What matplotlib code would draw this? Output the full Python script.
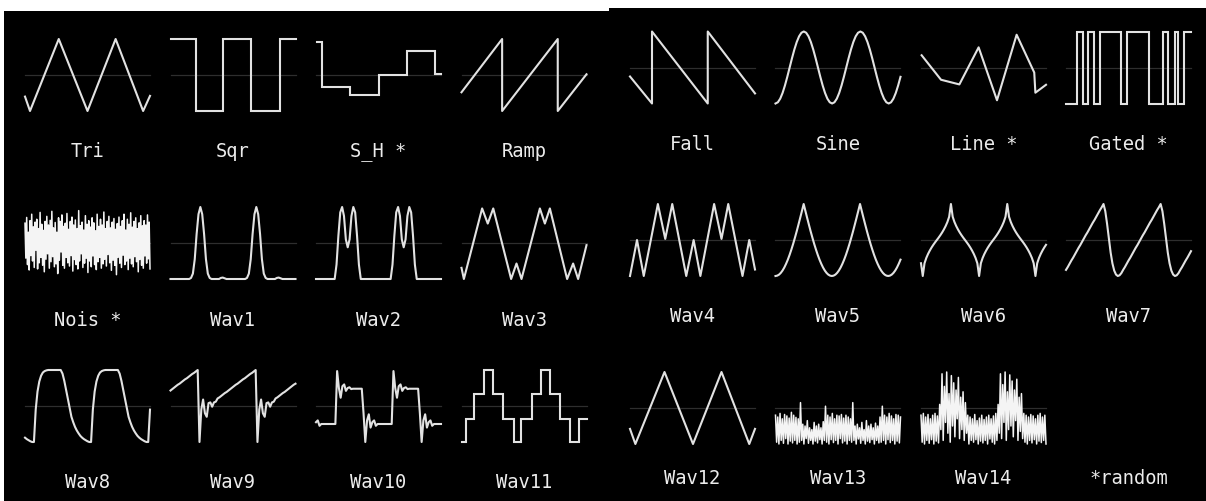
import matplotlib
matplotlib.use('Agg')
import matplotlib.pyplot as plt
from matplotlib.patches import Rectangle
import numpy as np

# ---------------- waveform data (x: 0..1 across the box, y: -1..1) ----------------
tri_x = [0, 0.04, 0.27, 0.5, 0.725, 0.945, 1.0]
tri_y = [-0.6, -1, 1, -1, 1, -1, -0.58]

sqr_x = [0, 0.2, 0.42, 0.645, 0.875, 1.0]
sqr_lv = [1, -1, 1, -1, 1]

sh_x = [0.01, 0.046, 0.274, 0.506, 0.728, 0.952, 1.0]
sh_lv = [0.91, -0.34, -0.55, 0.0, 0.66, 0.03]

ramp_x = [0, 0.325, 0.325, 0.77, 0.77, 1.0]
ramp_y = [-0.48, 1, -1, 1, -1, 0.02]

fall_x = [0, 0.176, 0.176, 0.622, 0.622, 1.0]
fall_y = [-0.25, -1, 1, -1, 1, -0.72]

sine_period = [-1, -0.966, -0.866, -0.707, -0.5, -0.259, 0, 0.259, 0.5, 0.707, 0.866, 0.966,
               1, 0.966, 0.866, 0.707, 0.5, 0.259, 0, -0.259, -0.5, -0.707, -0.866, -0.966]

line_x = [0.005, 0.16, 0.307, 0.461, 0.608, 0.765, 0.906, 0.915, 1.0]
line_y = [0.34, -0.34, -0.47, 0.56, -0.91, 0.91, -0.14, -0.70, -0.48]

gated_x = [0, 0.088, 0.137, 0.177, 0.223, 0.268, 0.437, 0.491, 0.665, 0.777, 0.812, 0.871, 0.893, 0.941, 1.0]
gated_lv = [-1, 1, -1, 1, -1, 1, -1, 1, -1, 1, -1, 1, -1, 1]

nois_vals = [0.55, -0.42, 0.71, -0.6, 0.3, -0.75, 0.62, -0.35, 0.8, -0.5, 0.45, -0.68, 0.58, -0.2, 0.66, -0.72,
             0.4, -0.55, 0.85, -0.4, 0.52, -0.62, 0.35, -0.8, 0.6, -0.45, 0.74, -0.3, 0.5, -0.7, 0.63, -0.52,
             0.88, -0.38, 0.42, -0.66, 0.57, -0.58, 0.3, -0.85, 0.7, -0.48, 0.6, -0.25, 0.78, -0.62, 0.46, -0.7,
             0.55, -0.4, 0.82, -0.55, 0.38, -0.64, 0.6, -0.35, 0.72, -0.78, 0.5, -0.46, 0.64, -0.6, 0.4, -0.72,
             0.9, -0.5, 0.48, -0.3, 0.58, -0.68, 0.36, -0.56, 0.76, -0.42, 0.52, -0.82, 0.62, -0.5, 0.44, -0.66,
             0.7, -0.36, 0.56, -0.6, 0.34, -0.74, 0.8, -0.52, 0.46, -0.4, 0.66, -0.7, 0.5, -0.58, 0.86, -0.45,
             0.4, -0.64, 0.6, -0.32, 0.74, -0.55, 0.42, -0.76, 0.58, -0.48, 0.68, -0.62, 0.38, -0.88, 0.54, -0.4,
             0.72, -0.56, 0.46, -0.68, 0.62, -0.34, 0.8, -0.6, 0.36, -0.5, 0.66, -0.74, 0.52, -0.42, 0.84, -0.58,
             0.44, -0.66, 0.6, -0.38, 0.7, -0.52, 0.4, -0.8, 0.56, -0.46, 0.76, -0.62, 0.48, -0.7, 0.62, -0.36,
             0.5, -0.56, 0.78, -0.44, 0.58, -0.72]

wav1_period = [1.0, 0.8, 0.25, -0.45, -0.85, -0.97, -1, -1, -1, -1, -1, -0.97, -0.96, -0.98, -1,
               -1, -1, -1, -1, -1, -1, -1, -1, -1, -1, -0.97, -0.85, -0.45, 0.25, 0.8]

wav2_period = [-1, -0.6, 0.2, 0.85, 1.0, 0.75, 0.1, -0.12, 0.1, 0.75, 1.0, 0.85, 0.2, -0.6, -1,
               -1, -1, -1, -1, -1, -1, -1, -1, -1, -1, -1, -1, -1, -1, -1]

wav3_x = [0, 0.019, 0.165, 0.21, 0.254, 0.397, 0.44, 0.48, 0.627, 0.667, 0.707, 0.845, 0.893, 0.933, 1.0]
wav3_y = [-0.69, -1, 0.96, 0.54, 0.96, -1, -0.57, -1, 0.96, 0.54, 0.96, -1, -0.57, -1, -0.06]

wav4_x = [0, 0.056, 0.11, 0.223, 0.282, 0.338, 0.45, 0.509, 0.563, 0.673, 0.732, 0.786, 0.9, 0.954, 1.0]
wav4_y = [-1, 0, -1, 1, 0.03, 1, -1, 0, -1, 1, 0.03, 1, -1, 0, -0.82]

wav5_period = [1, 0.804, 0.61, 0.42, 0.234, 0.058, -0.112, -0.268, -0.414, -0.546, -0.662, -0.764,
               -0.848, -0.914, -0.962, -0.99, -1, -0.99, -0.962, -0.914, -0.848, -0.764, -0.662,
               -0.546, -0.414, -0.268, -0.112, 0.058, 0.234, 0.42, 0.61, 0.804]

wav6_period = [1, 0.646, 0.5, 0.388, 0.293, 0.209, 0.134, 0.065, 0, -0.065, -0.134, -0.209, -0.293,
               -0.388, -0.5, -0.646, -1, -0.646, -0.5, -0.388, -0.293, -0.209, -0.134, -0.065, 0,
               0.065, 0.134, 0.209, 0.293, 0.388, 0.5, 0.646]

wav7_period = [1.0, 0.8, 0.45, 0.05, -0.35, -0.65, -0.85, -0.96, -1.0, -0.98, -0.92, -0.83, -0.75,
               -0.66, -0.57, -0.49, -0.4, -0.31, -0.22, -0.14, -0.05, 0.04, 0.13, 0.21, 0.3, 0.39,
               0.48, 0.56, 0.65, 0.74, 0.83, 0.91]

wav8_period = [-1.0, -0.1, 0.4, 0.68, 0.84, 0.93, 0.97, 0.99, 1, 1, 1, 1, 1, 1, 1, 1, 0.9, 0.7,
               0.45, 0.2, -0.05, -0.3, -0.45, -0.58, -0.68, -0.76, -0.83, -0.88, -0.92, -0.95, -0.98, -1.0]

wav9_period = [1.0, -1.0, -0.1, 0.18, -0.2, -0.3, 0.08, 0.1, -0.02, 0.1, 0.12, 0.21, 0.24, 0.28,
               0.32, 0.36, 0.39, 0.43, 0.47, 0.51, 0.55, 0.59, 0.62, 0.66, 0.70, 0.74, 0.77, 0.81,
               0.85, 0.89, 0.92, 0.96]

wav10_period = [-0.5, 0.97, 0.5, 0.23, 0.55, 0.6, 0.42, 0.5, 0.52, 0.47, 0.48, 0.48, 0.48, 0.48,
                0.48, 0.48, -0.2, -1.0, -0.4, -0.23, -0.6, -0.45, -0.4, -0.55, -0.5, -0.5, -0.5,
                -0.5, -0.5, -0.5, -0.5, -0.5]

wav11_x = [0, 0.035, 0.099, 0.18, 0.255, 0.335, 0.416, 0.475, 0.563, 0.635, 0.71, 0.79, 0.866, 0.938, 1.0]
wav11_lv = [-1, -0.35, 0.33, 1.0, 0.33, -0.35, -1, -0.35, 0.33, 1.0, 0.33, -0.35, -1, -0.35]

wav12_x = [0, 0.043, 0.276, 0.504, 0.732, 0.954, 1.0]
wav12_y = [-0.58, -1, 1, -1, 1, -1, -0.58]

wav13_vals = [-0.2, -0.95, -0.25, -1.0, -0.15, -0.9, -0.3, -0.98, -0.18, -0.85, -0.22, -1.0, -0.28, -0.92,
              -0.12, -0.97, -0.2, -0.9, -0.26, -1.0, -0.3,
              -0.95, 0.15, -0.9, -0.45, -1.0, -0.5, -0.85, -0.35, -0.98, -0.55, -0.9, -0.6, -1.0, -0.4,
              -0.92, -0.5, -0.97, -0.45, -0.88, -0.55, -1.0, -0.38, -0.9,
              0.05, -0.95, -0.2, -1.0, -0.25, -0.88, -0.15, -0.96, -0.3, -0.9, -0.2, -1.0, -0.22, -0.85,
              -0.18, -0.97, -0.28, -0.92, -0.2, -1.0, -0.25, -0.9, -0.3, -0.95,
              0.15, -0.9, -0.5, -1.0, -0.45, -0.86, -0.55, -0.98, -0.4, -0.9, -0.6, -1.0, -0.35, -0.92,
              -0.5, -0.96, -0.45, -0.88, -0.55, -1.0, -0.42, -0.9, -0.5, -0.97, -0.25,
              -0.95, 0.05, -0.9, -0.2, -1.0, -0.25, -0.88, -0.15, -0.96, -0.22, -0.9, -0.3, -1.0, -0.18,
              -0.92, -0.2, -0.97, -0.25]

wav14_vals = [-0.2, -0.95, -0.15, -1.0, -0.25, -0.9, -0.18, -0.98, -0.3, -0.88, -0.2, -1.0, -0.15, -0.92,
              -0.22, -0.97,
              0.1, -0.6, 0.95, -0.9, 0.6, -0.4, 1.0, -0.7, 0.4, -0.95, 0.9, -0.5, 0.7, -0.8, 0.5, -0.3,
              0.85, -0.85, 0.3, -0.6, 0.45, -0.9, 0.15, -0.7,
              -0.2, -1.0, -0.25, -0.9, -0.3, -0.95, -0.18, -0.88, -0.35, -1.0, -0.28, -0.92, -0.2, -0.97,
              -0.32, -0.9, -0.25, -1.0, -0.2, -0.86, -0.3, -0.95, -0.22, -1.0, -0.15, -0.9,
              0.1, -0.7, 0.95, -0.85, 0.65, -0.4, 1.0, -0.9, 0.45, -0.6, 0.92, -0.5, 0.75, -0.8, 0.5,
              -0.35, 0.8, -0.9, 0.3, -0.65, 0.4, -0.85,
              -0.15, -0.95, -0.2, -1.0, -0.25, -0.9, -0.18, -0.97, -0.22, -0.88, -0.3, -1.0, -0.2, -0.92,
              -0.15, -0.96, -0.25, -0.9, -0.2, -1.0]


def periodic(period, start, n):
    # repeat one read period and take the window that is visible in the box
    vals = np.tile(period, 5)[start:start + n]
    return np.linspace(0, 1, n), vals


def steps(edges, levels):
    return edges, list(levels) + [levels[-1]]


def seq(vals):
    return np.linspace(0, 1, len(vals)), vals


# (label, kind, x, y)
left_cells = [
    ('Tri', 'line', tri_x, tri_y),
    ('Sqr', 'step', *steps(sqr_x, sqr_lv)),
    ('S_H *', 'step', *steps(sh_x, sh_lv)),
    ('Ramp', 'line', ramp_x, ramp_y),
    ('Nois *', 'noise', *seq(nois_vals)),
    ('Wav1', 'line', *periodic(wav1_period, 14, 68)),
    ('Wav2', 'line', *periodic(wav2_period, 20, 68)),
    ('Wav3', 'line', wav3_x, wav3_y),
    ('Wav8', 'line', *periodic(wav8_period, 27, 71)),
    ('Wav9', 'line', *periodic(wav9_period, 17, 70)),
    ('Wav10', 'line', *periodic(wav10_period, 21, 72)),
    ('Wav11', 'step', *steps(wav11_x, wav11_lv)),
]
right_cells = [
    ('Fall', 'line', fall_x, fall_y),
    ('Sine', 'line', *periodic(sine_period, 0, 54)),
    ('Line *', 'line', line_x, line_y),
    ('Gated *', 'step', *steps(gated_x, gated_lv)),
    ('Wav4', 'line', wav4_x, wav4_y),
    ('Wav5', 'line', *periodic(wav5_period, 16, 72)),
    ('Wav6', 'line', *periodic(wav6_period, 15, 72)),
    ('Wav7', 'line', *periodic(wav7_period, 11, 71)),
    ('Wav12', 'line', wav12_x, wav12_y),
    ('Wav13', 'noise', *seq(wav13_vals)),
    ('Wav14', 'noise', *seq(wav14_vals)),
    ('*random', None, None, None),
]

# ---------------- layout (pixels) ----------------
W, H = 1206, 502
BOX_W, AMP, PAD = 125, 36, 5
left_cols = [25, 170.5, 316, 461.5]
left_rows = [76, 244, 407]
left_lab = [152, 320, 483]
right_cols = [630, 775.5, 921, 1066]
right_rows = [68.5, 241, 409]
right_lab = [145, 317, 479]

WAVE_C = '#e2e2e2'
MID_C = '#2e2e2e'
TEXT_C = '#ececec'

fig = plt.figure(figsize=(W / 100, H / 100), dpi=100, facecolor='white')
# the two black screens sit behind every axes
fig.patches.append(Rectangle((4 / W, 0), 605 / W, 490 / H, transform=fig.transFigure,
                             facecolor='black', edgecolor='none', zorder=-5))
fig.patches.append(Rectangle((609 / W, 0), 597 / W, 493 / H, transform=fig.transFigure,
                             facecolor='black', edgecolor='none', zorder=-5))


def draw_cell(x0, cy, ly, label, kind, xs, ys):
    ymar = 1.3
    rect = [(x0 - PAD) / W, (H - cy - AMP * ymar) / H, (BOX_W + 2 * PAD) / W, 2 * AMP * ymar / H]
    fig.text((x0 + BOX_W / 2) / W, 1 - ly / H, label, ha='center', va='center',
             color=TEXT_C, fontsize=13.5, family='DejaVu Sans Mono')
    if kind is None:
        return
    ax = fig.add_axes(rect)
    ax.set_zorder(2)
    ax.set_xlim(-PAD / BOX_W, 1 + PAD / BOX_W)
    ax.set_ylim(-ymar, ymar)
    ax.axis('off')
    lo = PAD / (BOX_W + 2 * PAD)
    ax.axhline(0, xmin=lo, xmax=1 - lo, color=MID_C, lw=0.9)
    if kind == 'step':
        ax.step(xs, ys, where='post', color=WAVE_C, lw=1.5, solid_joinstyle='miter')
    elif kind == 'noise':
        ax.plot(xs, ys, color='#f4f4f4', lw=1.1)
    else:
        ax.plot(xs, ys, color=WAVE_C, lw=1.5)


for i, cell in enumerate(left_cells):
    r, c = divmod(i, 4)
    draw_cell(left_cols[c], left_rows[r], left_lab[r], *cell)
for i, cell in enumerate(right_cells):
    r, c = divmod(i, 4)
    draw_cell(right_cols[c], right_rows[r], right_lab[r], *cell)

fig.savefig('out.png', dpi=100, facecolor=fig.get_facecolor())
